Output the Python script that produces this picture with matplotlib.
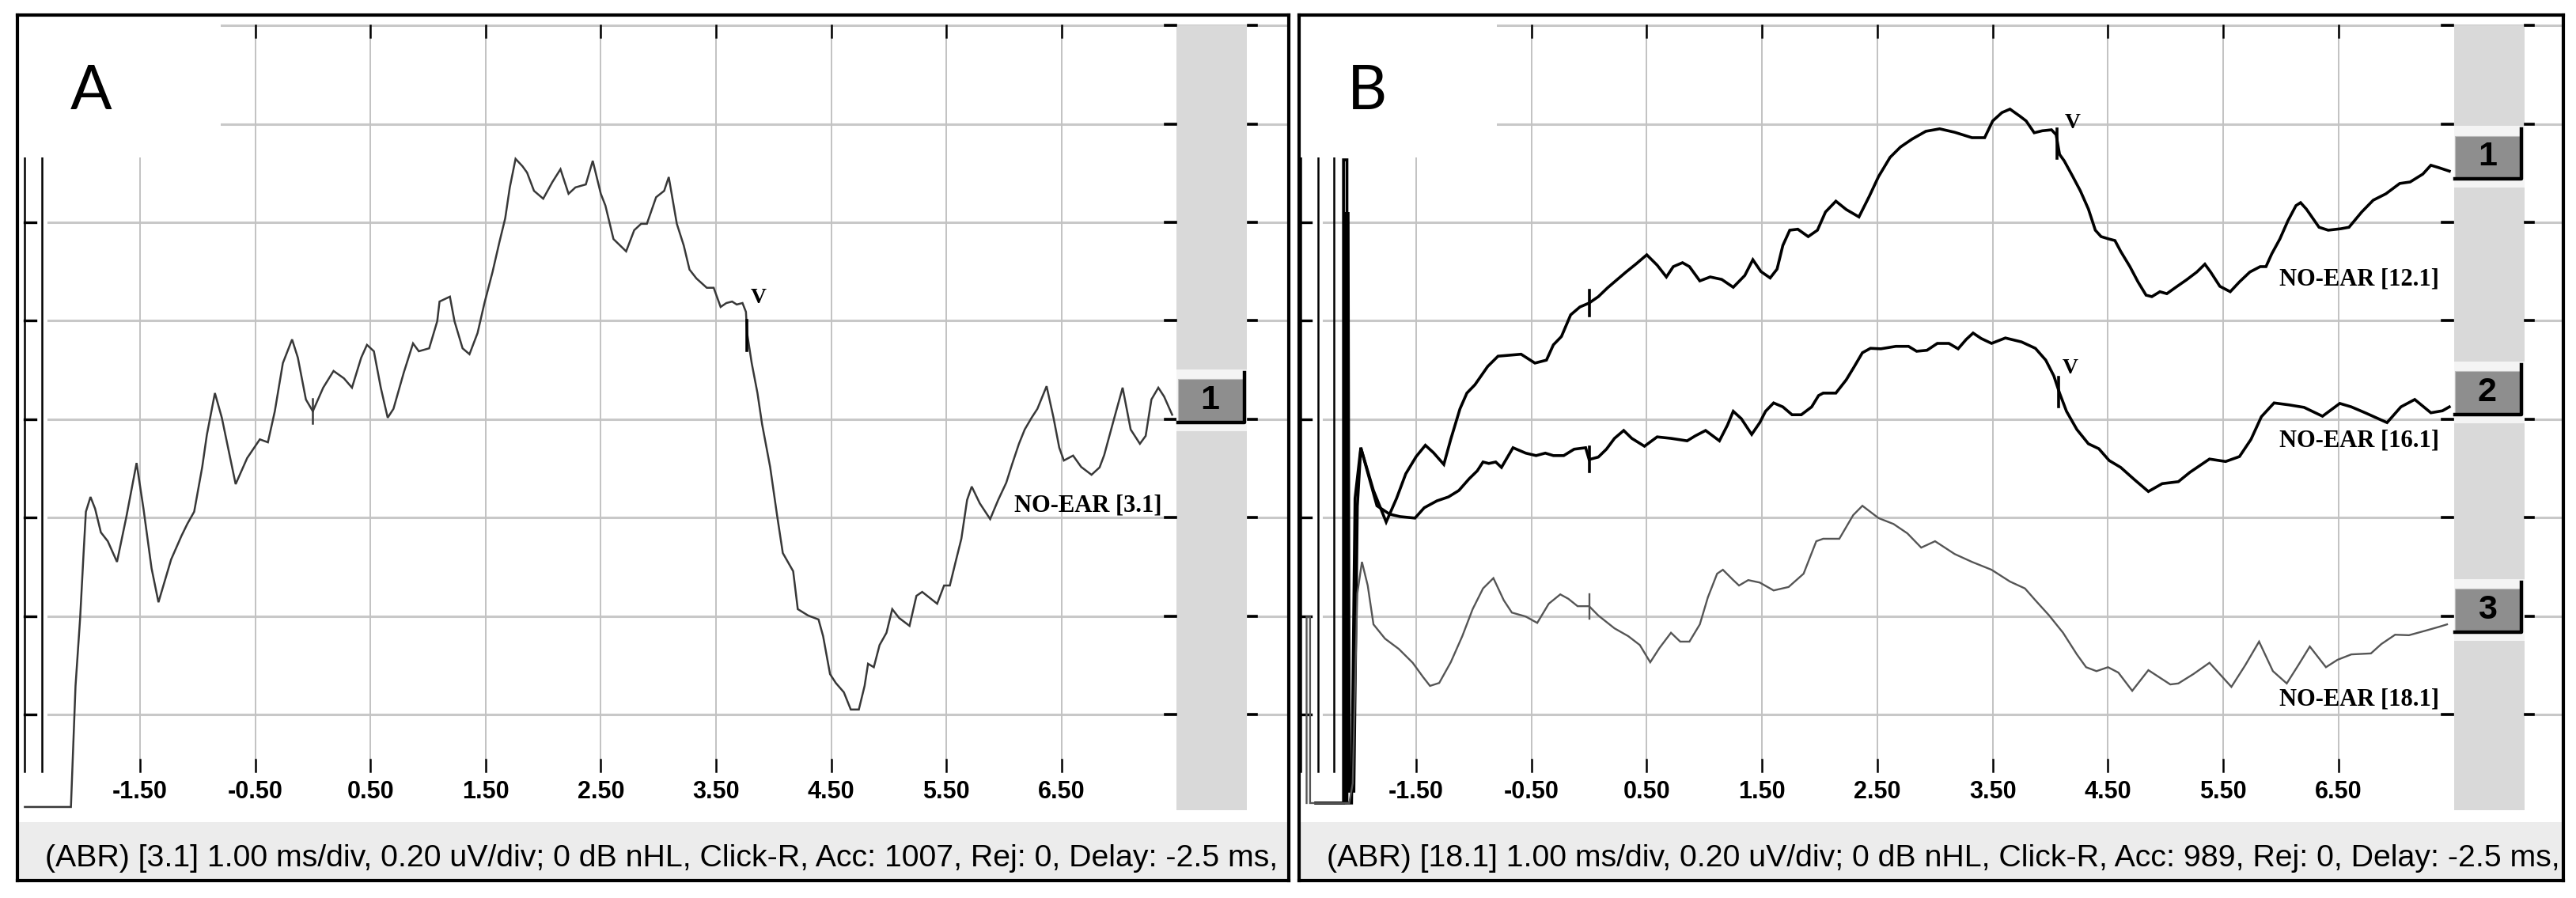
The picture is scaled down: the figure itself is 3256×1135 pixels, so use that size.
import numpy as np
import matplotlib.pyplot as plt
from matplotlib.patches import Rectangle

# ---- values: time in ms, amplitude in uV ----
a_t = [-2.50, -2.10, -2.06, -2.02, -1.99, -1.97, -1.93, -1.89, -1.84, -1.78, -1.70, -1.62, -1.53, -1.47,
       -1.40, -1.34, -1.23, -1.14, -1.09, -1.03, -0.96, -0.92, -0.85, -0.79, -0.67, -0.57, -0.46, -0.39,
       -0.33, -0.26, -0.18, -0.13, -0.06, 0.00, 0.09, 0.18, 0.27, 0.34, 0.42, 0.47, 0.53, 0.59, 0.65,
       0.70, 0.79, 0.87, 0.92, 1.01, 1.08, 1.10, 1.19, 1.23, 1.30, 1.36, 1.43, 1.49, 1.56, 1.62, 1.67,
       1.71, 1.76, 1.82, 1.86, 1.92, 2.00, 2.08, 2.15, 2.22, 2.28, 2.37, 2.43, 2.50, 2.54, 2.61, 2.72,
       2.79, 2.85, 2.90, 2.98, 3.05, 3.09, 3.16, 3.22, 3.27, 3.33, 3.42, 3.48, 3.54, 3.59, 3.64, 3.68,
       3.73, 3.76, 3.77, 3.81, 3.86, 3.90, 3.97, 4.03, 4.08, 4.17, 4.21, 4.30, 4.39, 4.43, 4.49, 4.54,
       4.61, 4.67, 4.74, 4.79, 4.82, 4.87, 4.92, 4.98, 5.03, 5.09, 5.18, 5.24, 5.29, 5.35, 5.42, 5.48,
       5.53, 5.58, 5.63, 5.68, 5.72, 5.79, 5.88, 5.95, 6.02, 6.07, 6.13, 6.18, 6.24, 6.29, 6.37, 6.43,
       6.48, 6.52, 6.60, 6.67, 6.76, 6.83, 6.87, 6.95, 7.03, 7.10, 7.18, 7.23, 7.28, 7.34, 7.39, 7.46]
a_v = [-0.188, -0.188, 0.058, 0.196, 0.328, 0.412, 0.442, 0.418, 0.370, 0.352, 0.310, 0.400, 0.511, 0.418,
       0.297, 0.228, 0.315, 0.363, 0.387, 0.412, 0.503, 0.568, 0.653, 0.603, 0.468, 0.521, 0.559, 0.553,
       0.616, 0.714, 0.762, 0.725, 0.640, 0.616, 0.664, 0.698, 0.683, 0.664, 0.725, 0.751, 0.738, 0.664, 0.603,
       0.621, 0.695, 0.754, 0.738, 0.744, 0.799, 0.839, 0.849, 0.799, 0.744, 0.732, 0.775, 0.836, 0.899, 0.960, 1.008,
       1.071, 1.129, 1.114, 1.101, 1.064, 1.048, 1.082, 1.108, 1.058, 1.071, 1.077, 1.125, 1.058, 1.034, 0.966, 0.941,
       0.984, 0.997, 0.997, 1.051, 1.064, 1.092, 0.997, 0.953, 0.904, 0.886, 0.867, 0.867, 0.828, 0.836, 0.839, 0.833,
       0.836, 0.818, 0.775, 0.714, 0.653, 0.590, 0.503, 0.405, 0.328, 0.291, 0.214, 0.201, 0.193, 0.159, 0.082, 0.064,
       0.045, 0.010, 0.010, 0.058, 0.103, 0.096, 0.141, 0.166, 0.214, 0.196, 0.180, 0.241, 0.249, 0.238, 0.225, 0.262,
       0.262, 0.310, 0.357, 0.436, 0.463, 0.429, 0.397, 0.436, 0.471, 0.508, 0.550, 0.579, 0.603, 0.621, 0.667, 0.603,
       0.542, 0.516, 0.526, 0.503, 0.487, 0.502, 0.527, 0.596, 0.664, 0.579, 0.550, 0.566, 0.640, 0.664, 0.646, 0.609]

b1_t = [-2.37, -2.13, -2.13, -2.10, -2.10, -2.06, -2.03,
        -1.98, -1.87, -1.76, -1.67, -1.59, -1.50, -1.42, -1.35, -1.26, -1.20, -1.12, -1.06, -0.99, -0.88,
        -0.79, -0.59, -0.47, -0.37, -0.31, -0.24, -0.16, -0.08, 0.00, 0.08, 0.16, 0.22, 0.32, 0.41, 0.50,
        0.59, 0.67, 0.73, 0.81, 0.87, 0.96, 1.05, 1.15, 1.25, 1.35, 1.42, 1.49, 1.57, 1.63, 1.68, 1.74,
        1.81, 1.90, 1.98, 2.05, 2.14, 2.23, 2.34, 2.43, 2.51, 2.61, 2.70, 2.80, 2.92, 3.04, 3.17, 3.32,
        3.43, 3.50, 3.58, 3.65, 3.74, 3.79, 3.86, 3.93, 4.01, 4.05, 4.08, 4.12, 4.19, 4.26, 4.33, 4.39,
        4.44, 4.51, 4.56, 4.61, 4.69, 4.76, 4.83, 4.88, 4.95, 5.01, 5.10, 5.18, 5.27, 5.34, 5.39, 5.47,
        5.56, 5.64, 5.73, 5.82, 5.87, 5.92, 5.99, 6.06, 6.13, 6.17, 6.22, 6.33, 6.41, 6.52, 6.59, 6.70,
        6.80, 6.91, 7.03, 7.12, 7.23, 7.30, 7.37, 7.46]
b1_v = [-0.180, -0.180, 1.127, 1.127, -0.180, -0.180, 0.439,
        0.542, 0.455, 0.391, 0.439, 0.489, 0.524, 0.547, 0.532, 0.508, 0.559, 0.621, 0.653, 0.670, 0.707,
        0.728, 0.732, 0.714, 0.720, 0.751, 0.768, 0.812, 0.828, 0.836, 0.849, 0.867, 0.879, 0.899, 0.916, 0.934,
        0.913, 0.889, 0.910, 0.918, 0.910, 0.881, 0.889, 0.884, 0.868, 0.892, 0.924, 0.900, 0.887, 0.905, 0.953, 0.984,
        0.986, 0.971, 0.984, 1.021, 1.043, 1.026, 1.011, 1.053, 1.093, 1.132, 1.153, 1.169, 1.185, 1.190, 1.183, 1.172,
        1.172, 1.206, 1.223, 1.230, 1.215, 1.206, 1.182, 1.186, 1.188, 1.178, 1.138, 1.125, 1.095, 1.064, 1.027, 0.984,
        0.971, 0.966, 0.963, 0.941, 0.910, 0.879, 0.852, 0.849, 0.859, 0.855, 0.870, 0.883, 0.899, 0.915, 0.899, 0.870,
        0.859, 0.879, 0.899, 0.910, 0.910, 0.936, 0.966, 1.003, 1.034, 1.040, 1.027, 0.990, 0.984, 0.987, 0.990, 1.021,
        1.045, 1.058, 1.079, 1.082, 1.098, 1.116, 1.111, 1.104]

b2_t = [-2.37, -2.12, -2.12, -2.09, -2.08, -2.04, -2.01,
        -1.98, -1.84, -1.73, -1.64, -1.51, -1.43, -1.32, -1.22, -1.13, -1.04, -0.97, -0.92, -0.87, -0.81,
        -0.76, -0.66, -0.55, -0.46, -0.38, -0.31, -0.22, -0.13, -0.03, 0.00, 0.08, 0.15, 0.22, 0.30, 0.37,
        0.48, 0.59, 0.71, 0.85, 0.92, 1.01, 1.13, 1.20, 1.25, 1.32, 1.41, 1.48, 1.53, 1.60, 1.68, 1.76,
        1.84, 1.93, 1.99, 2.03, 2.14, 2.23, 2.30, 2.37, 2.44, 2.53, 2.66, 2.77, 2.84, 2.93, 3.02, 3.12,
        3.20, 3.27, 3.33, 3.40, 3.49, 3.61, 3.75, 3.87, 3.96, 4.03, 4.08, 4.14, 4.23, 4.33, 4.42, 4.51,
        4.61, 4.73, 4.85, 4.97, 5.11, 5.21, 5.38, 5.52, 5.64, 5.74, 5.83, 5.94, 6.07, 6.20, 6.36, 6.51,
        6.61, 6.73, 6.92, 7.04, 7.16, 7.30, 7.40, 7.46]
b2_v = [-0.180, -0.180, 1.018, 1.018, -0.156, -0.156, 0.423,
        0.542, 0.424, 0.407, 0.402, 0.399, 0.420, 0.434, 0.442, 0.455, 0.479, 0.495, 0.513, 0.510, 0.513,
        0.502, 0.542, 0.531, 0.526, 0.531, 0.526, 0.526, 0.539, 0.542, 0.518, 0.523, 0.539, 0.561, 0.577, 0.561,
        0.545, 0.564, 0.561, 0.556, 0.566, 0.577, 0.556, 0.588, 0.616, 0.601, 0.569, 0.593, 0.616, 0.633, 0.625, 0.609,
        0.609, 0.625, 0.648, 0.653, 0.653, 0.680, 0.707, 0.735, 0.744, 0.743, 0.748, 0.748, 0.738, 0.740, 0.754, 0.754,
        0.743, 0.762, 0.775, 0.764, 0.754, 0.765, 0.757, 0.744, 0.720, 0.688, 0.653, 0.616, 0.579, 0.550, 0.540, 0.516,
        0.502, 0.477, 0.453, 0.469, 0.473, 0.492, 0.519, 0.514, 0.524, 0.559, 0.605, 0.633, 0.629, 0.624, 0.606, 0.632,
        0.625, 0.613, 0.593, 0.625, 0.640, 0.613, 0.617, 0.625]

b3_t = [-2.45, -2.45, -2.42, -2.42, -2.08, -2.05, -2.01,
        -1.97, -1.92, -1.87, -1.77, -1.65, -1.53, -1.44, -1.38, -1.30, -1.20, -1.10, -1.01, -0.92, -0.83,
        -0.74, -0.67, -0.55, -0.45, -0.35, -0.25, -0.18, -0.10, 0.00, 0.08, 0.22, 0.34, 0.44, 0.53, 0.61,
        0.71, 0.79, 0.87, 0.96, 1.03, 1.11, 1.16, 1.25, 1.30, 1.38, 1.48, 1.60, 1.73, 1.86, 1.97, 2.03,
        2.17, 2.29, 2.37, 2.51, 2.64, 2.76, 2.88, 3.00, 3.17, 3.32, 3.49, 3.65, 3.78, 3.87, 3.99, 4.11,
        4.23, 4.31, 4.40, 4.50, 4.59, 4.71, 4.85, 5.04, 5.11, 5.24, 5.38, 5.57, 5.69, 5.81, 5.93, 6.05,
        6.15, 6.25, 6.39, 6.49, 6.61, 6.78, 6.87, 6.99, 7.11, 7.25, 7.37, 7.44]
b3_v = [-0.180, 0.198, 0.198, -0.180, -0.180, -0.140, 0.246,
        0.310, 0.262, 0.183, 0.154, 0.133, 0.105, 0.076, 0.058, 0.064, 0.106, 0.159, 0.214, 0.256, 0.277,
        0.232, 0.207, 0.199, 0.186, 0.225, 0.244, 0.235, 0.220, 0.220, 0.201, 0.175, 0.159, 0.141, 0.106, 0.135,
        0.166, 0.148, 0.148, 0.183, 0.238, 0.286, 0.294, 0.273, 0.262, 0.273, 0.268, 0.252, 0.259, 0.286, 0.352, 0.357,
        0.357, 0.405, 0.424, 0.399, 0.387, 0.368, 0.339, 0.352, 0.326, 0.310, 0.294, 0.270, 0.256, 0.232, 0.201, 0.166,
        0.122, 0.096, 0.088, 0.096, 0.085, 0.048, 0.090, 0.061, 0.063, 0.082, 0.105, 0.056, 0.100, 0.148, 0.088, 0.063,
        0.100, 0.138, 0.096, 0.111, 0.122, 0.124, 0.143, 0.162, 0.161, 0.170, 0.178, 0.183]

x_ticks = [-1.5, -0.5, 0.5, 1.5, 2.5, 3.5, 4.5, 5.5, 6.5]
y_grid = [0.0, 0.2, 0.4, 0.6, 0.8, 1.0, 1.2, 1.4]

labels_a = ["NO-EAR [3.1]"]
labels_b = ["NO-EAR [12.1]", "NO-EAR [16.1]", "NO-EAR [18.1]"]
label_y_a = [0.424]
label_y_b = [0.884, 0.556, 0.031]

# wave V marker latency and its label position
v_lat_a = [3.77]
v_lab_a = [(3.87, 0.846)]
v_lat_b = [4.06, 4.07]
v_lab_b = [(4.195, 1.201), (4.175, 0.704)]

status_a = "(ABR) [3.1] 1.00 ms/div, 0.20 uV/div; 0 dB nHL, Click-R, Acc: 1007, Rej: 0, Delay: -2.5 ms,"
status_b = "(ABR) [18.1] 1.00 ms/div, 0.20 uV/div; 0 dB nHL, Click-R, Acc: 989, Rej: 0, Delay: -2.5 ms,"

# ---- layout ----
W, H = 3256, 1135
PX_UV = 622.0      # pixels per uV
Y0_PX = 903.0      # pixel row of 0 uV
TOP, BOT = 19, 1113
NARROW = ['Liberation Sans Narrow', 'Liberation Sans', 'DejaVu Sans']
SERIF = ['Liberation Serif', 'DejaVu Serif']

fig = plt.figure(figsize=(W / 100, H / 100), dpi=100)
fig.patch.set_facecolor('white')


def make_axes(left, right, zero_px, ms_px):
    ax = fig.add_axes([left / W, 1 - BOT / H, (right - left) / W, (BOT - TOP) / H])
    ax.set_xlim((left - zero_px) / ms_px, (right - zero_px) / ms_px)
    ax.set_ylim((Y0_PX - BOT) / PX_UV, (Y0_PX - TOP) / PX_UV)
    ax.set_xticks([])
    ax.set_yticks([])
    for s in ax.spines.values():
        s.set_linewidth(3)
        s.set_color('black')
        s.set_zorder(10)
    return ax


def draw_panel(ax, traces, colors, widths, axis_lines, labels, label_y, v_lat, v_lab, status, letter, letter_x):
    x_lo, x_hi = ax.get_xlim()
    # grid
    for y in y_grid:
        ax.plot([-2.30, x_hi], [y, y], color='#c8c8c8', lw=2.2, zorder=1)
    for x in x_ticks:
        ax.plot([x, x], [-0.092, 1.4], color='#c2c2c2', lw=1.4, zorder=1)
        ax.plot([x, x], [1.376, 1.4], color='black', lw=1.8, zorder=3)
        ax.plot([x, x], [-0.116, -0.092], color='black', lw=1.8, zorder=3)
        ax.text(x, -0.158, f'{x:.2f}', ha='center', va='center', fontsize=22,
                fontweight='bold', family=NARROW, zorder=6)
    # blank corner behind the letter
    ax.add_patch(Rectangle((x_lo, 1.132), -0.80 - x_lo, 1.5, facecolor='white',
                           edgecolor='none', zorder=3.5))
    # left axis
    for x in axis_lines:
        ax.plot([x, x], [-0.116, 1.132], color='black', lw=1.8, zorder=3)
    for y in y_grid[:6]:
        ax.plot([-2.50, -2.41], [y, y], color='black', lw=2.4, zorder=3)
    # side bar
    ax.add_patch(Rectangle((7.50, -0.195), 0.61, 1.595, facecolor='#d9d9d9',
                           edgecolor='none', zorder=2))
    for y in y_grid:
        ax.plot([7.40, 7.49], [y, y], color='black', lw=2.6, zorder=3)
        ax.plot([8.12, 8.19], [y, y], color='black', lw=2.6, zorder=3)
    # traces
    for i, (t, v) in enumerate(traces):
        ax.plot(t, v, color=colors[i], lw=widths[i], zorder=4, solid_joinstyle='miter')
        y0 = np.interp(0.0, t[7:], v[7:])
        ax.plot([0, 0], [y0 - 0.025, y0 + 0.025], color=colors[i], lw=widths[i], zorder=4)
        # numbered box
        yb = v[-1] - 0.015
        ax.add_patch(Rectangle((7.50, yb - 0.018), 0.61, 0.125, facecolor='#f4f4f4',
                               edgecolor='none', zorder=4.5))
        ax.add_patch(Rectangle((7.51, yb), 0.575, 0.087, facecolor='#8e8e8e',
                               edgecolor='#bdbdbd', lw=0.8, zorder=5))
        ax.plot([7.51, 8.085, 8.085], [yb, yb, yb + 0.1], color='black', lw=3.2, zorder=5.5)
        ax.text(7.79, yb + 0.044, str(i + 1), ha='center', va='center', fontsize=31,
                fontweight='bold', family=['Liberation Sans', 'DejaVu Sans'], zorder=6)
    for lat, (lx, ly), (t, v) in zip(v_lat, v_lab, traces):
        yv = np.interp(lat, t[7:], v[7:])
        ax.plot([lat, lat], [yv - 0.035, yv + 0.025], color='black', lw=2.6, zorder=4.5)
        ax.text(lx, ly, 'V', ha='center', va='center', fontsize=20, fontweight='bold',
                family=SERIF, zorder=6)
    for lab, ly in zip(labels, label_y):
        ax.text(7.37, ly, lab, ha='right', va='center', fontsize=22, fontweight='bold',
                family=SERIF, zorder=6)
    # status line
    ax.add_patch(Rectangle((0, 0), 1, 0.0676, transform=ax.transAxes, facecolor='#ececec',
                           edgecolor='none', zorder=0.5))
    st = ax.text(0.022, 0.026, status, transform=ax.transAxes, ha='left', va='center',
                 fontsize=30, family=NARROW, zorder=6)
    ax.text(letter_x, 1.264, letter, ha='center', va='center', fontsize=56,
            family=['Lato', 'DejaVu Sans'], zorder=6)
    return st


ax_a = make_axes(22, 1629, 395.4, 145.6)
ax_b = make_axes(1642, 3240, 2008.6, 145.75)

st_a = draw_panel(ax_a, [(a_t, a_v)], ['#383838'], [1.8], [-2.50, -2.35],
                  labels_a, label_y_a, v_lat_a, v_lab_a, status_a, 'A', -1.926)
st_b = draw_panel(ax_b, [(b1_t, b1_v), (b2_t, b2_v), (b3_t, b3_v)],
                  ['black', 'black', '#555555'], [2.6, 2.6, 1.7], [-2.50, -2.35, -2.21],
                  labels_b, label_y_b, v_lat_b, v_lab_b, status_b, 'B', -1.925)

# fit the status lines to the width they take in the screenshot
fig.canvas.draw()
for st in (st_a, st_b):
    w = st.get_window_extent().width
    st.set_fontsize(st.get_fontsize() * 1560 / w)

fig.savefig('out.png', dpi=100, facecolor='white')
